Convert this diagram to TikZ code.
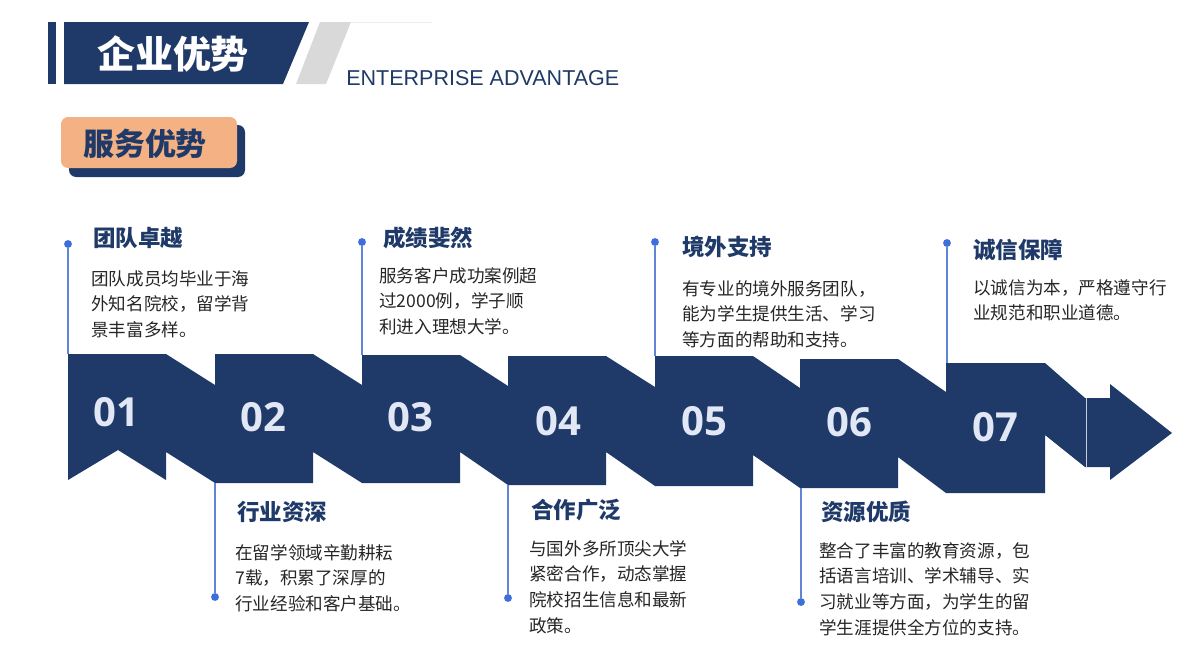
\documentclass[tikz,border=0pt]{standalone}
\usepackage{fontspec}
\setmainfont{Liberation Sans}
\newfontfamily\cjk{Noto Sans CJK SC}
\newfontfamily\numfont{Open Sans}
\definecolor{navy}{RGB}{31,58,104}
\definecolor{peach}{RGB}{244,177,131}
\definecolor{lineblue}{RGB}{96,132,214}
\definecolor{dotblue}{RGB}{62,110,220}
\definecolor{numwhite}{RGB}{226,231,245}
\definecolor{bodygray}{RGB}{38,38,38}
\definecolor{slashgray}{RGB}{217,217,217}

\begin{document}
\begin{tikzpicture}[x=0.025cm,y=-0.025cm,
  title/.style={anchor=west,inner sep=0pt,text=navy,font=\cjk\bfseries\fontsize{16}{19}\selectfont},
  body/.style={anchor=north west,inner sep=0pt,align=left,text=bodygray,font=\cjk\fontsize{12.5}{18.3}\selectfont},
  num/.style={text=numwhite,font=\numfont\bfseries\fontsize{28.5}{30}\selectfont},
  dot/.style={circle,fill=dotblue,inner sep=0pt,minimum size=5.6pt},
  tline/.style={draw=lineblue,line width=0.9pt}]
\useasboundingbox (0,0) rectangle (1201,646);

\fill[navy] (48,22) rectangle (56,84);
\fill[navy] (64,22) -- (309,22) -- (283,84) -- (64,84) -- cycle;
\fill[slashgray] (320,22) -- (351,22) -- (326,84) -- (296,84) -- cycle;
\draw[gray!15,line width=0.6pt] (351,22) -- (432,22);
\node[text=white,font=\cjk\bfseries\fontsize{27}{30}\selectfont] (head) at (173,54) {企业优势};
\node[anchor=base west,inner sep=0pt,text=navy,font=\fontsize{15.3}{18}\selectfont] (headen) at (346,85) {ENTERPRISE ADVANTAGE};

\fill[navy,rounded corners=5pt] (69,125) rectangle (245,177);
\fill[peach,rounded corners=5pt] (61,117) rectangle (237,168);
\node[text=navy,font=\cjk\bfseries\fontsize{22}{26}\selectfont] (badge) at (145,144) {服务优势};

\fill[navy] (68,354) -- (166,354) -- (215,385) -- (215,354) -- (313,354) -- (362,385)
  -- (362,355) -- (460,355) -- (508,386) -- (508,356) -- (606,356) -- (655,387)
  -- (655,356) -- (753,356) -- (800,388) -- (800,359) -- (898,359) -- (946,392)
  -- (946,363) -- (1045,363) -- (1085,398) -- (1110,398) -- (1110,384) -- (1172,433)
  -- (1110,480) -- (1110,467) -- (1085,467) -- (1045,435) -- (1045,493) -- (946,493)
  -- (898,457) -- (898,488) -- (800,488) -- (753,455) -- (753,486) -- (655,486)
  -- (606,452) -- (606,485) -- (508,485) -- (460,452) -- (460,483) -- (362,483)
  -- (313,452) -- (313,483) -- (215,483) -- (166,452) -- (166,480) -- (118,450)
  -- (68,480) -- cycle;
\draw[white!75!navy,line width=0.4pt] (1086,398) -- (1086,467);

\node[num] (n1) at (116,412) {01};
\node[num] (n2) at (263,417) {02};
\node[num] (n3) at (410,417) {03};
\node[num] (n4) at (558,421) {04};
\node[num] (n5) at (704,421) {05};
\node[num] (n6) at (849,422) {06};
\node[num] (n7) at (995,427) {07};

\node[dot] (d1) at (68,244) {};
\node[dot] (d2) at (215,597) {};
\node[dot] (d3) at (362,242) {};
\node[dot] (d4) at (508,598) {};
\node[dot] (d5) at (655,242) {};
\node[dot] (d6) at (801,602) {};
\node[dot] (d7) at (947,243) {};
\coordinate (e1) at (68,354);
\coordinate (e2) at (215,483);
\coordinate (e3) at (362,355);
\coordinate (e4) at (508,485);
\coordinate (e5) at (655,356);
\coordinate (e6) at (801,488);
\coordinate (e7) at (947,363);
\foreach \i in {1,...,7}
  \draw[tline] (d\i) -- (e\i);

\node[title] (t1) at (93,238) {团队卓越};
\node[title] (t2) at (237,512) {行业资深};
\node[title] (t3) at (383,238) {成绩斐然};
\node[title] (t4) at (531,510) {合作广泛};
\node[title] (t5) at (682,247) {境外支持};
\node[title] (t6) at (821,512) {资源优质};
\node[title] (t7) at (973,250) {诚信保障};

\node[body] (b1) at (91,270) {团队成员均毕业于海\\外知名院校，留学背\\景丰富多样。};
\node[body] (b2) at (235,544) {在留学领域辛勤耕耘\\7载，积累了深厚的\\行业经验和客户基础。};
\node[body] (b3) at (379,267) {服务客户成功案例超\\过2000例，学子顺\\利进入理想大学。};
\node[body] (b4) at (529,540) {与国外多所顶尖大学\\紧密合作，动态掌握\\院校招生信息和最新\\政策。};
\node[body] (b5) at (682,280) {有专业的境外服务团队，\\能为学生提供生活、学习\\等方面的帮助和支持。};
\node[body] (b6) at (819,542) {整合了丰富的教育资源，包\\括语言培训、学术辅导、实\\习就业等方面，为学生的留\\学生涯提供全方位的支持。};
\node[body] (b7) at (973,279) {以诚信为本，严格遵守行\\业规范和职业道德。};
\end{tikzpicture}
\end{document}
